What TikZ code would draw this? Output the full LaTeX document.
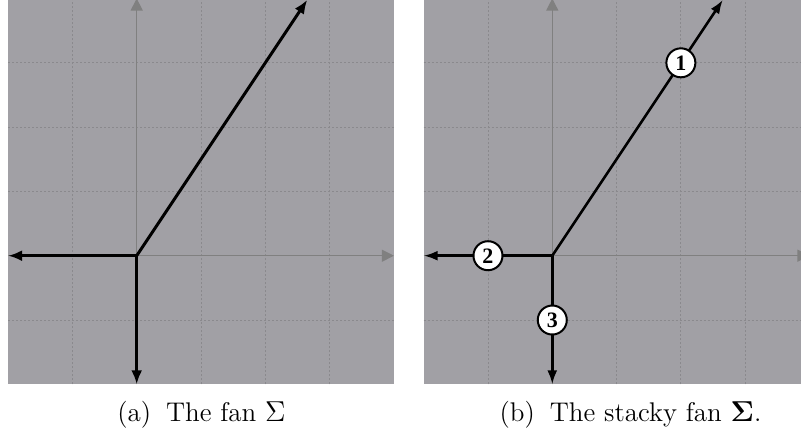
\documentclass[tikz,border=0pt]{standalone}
\usepackage[no-math]{fontspec}
\usetikzlibrary{arrows.meta}
\newfontfamily\numfont{Liberation Serif}
\definecolor{panelbg}{RGB}{161,160,165}
\definecolor{gridgray}{RGB}{138,137,141}
\definecolor{axisgray}{RGB}{128,128,128}
\tikzset{
  panel/.style={fill=panelbg},
  gridline/.style={draw=gridgray, line width=0.45pt, dash pattern=on 1pt off 1pt},
  axisline/.style={draw=axisgray, line width=0.55pt, -{Triangle[length=6pt,width=6pt]}},
  rayA/.style={draw=black, line width=1.5pt, -{Latex[length=7pt,width=5.5pt]}},
  rayB/.style={draw=black, line width=1.3pt, -{Latex[length=7pt,width=5pt]}},
  numcirc/.style={circle, draw=black, fill=white, line width=1pt, minimum size=14.5pt, inner sep=0pt, font=\numfont\bfseries\fontsize{11}{11}\selectfont},
  captext/.style={anchor=base, inner sep=0pt, font=\fontsize{13.5}{15}\selectfont}
}
\begin{document}
\begin{tikzpicture}[x=32.15pt,y=32.15pt]
\useasboundingbox (-2.126,-2.788) rectangle (10.331,3.977);
% ---------- panel (a) ----------
\begin{scope}
  \fill[panel] (-2,-2) rectangle (4,4);
  \foreach \k in {-1,1,2,3} {
    \draw[gridline] (\k,-2) -- (\k,4);
    \draw[gridline] (-2,\k) -- (4,\k);
  }
  \coordinate (aO) at (0,0);
  \coordinate (aXl) at (-2,0);
  \coordinate (aXr) at (4,0);
  \coordinate (aYb) at (0,-2);
  \coordinate (aYt) at (0,4);
  \draw[axisline] (aXl) -- (aXr);
  \draw[axisline] (aYb) -- (aYt);
  \coordinate (aR1) at (2.653,3.98);
  \coordinate (aR2) at (-2,0);
  \coordinate (aR3) at (0,-2);
  \draw[rayA] (aO) -- (aR1);
  \draw[rayA] (aO) -- (aR2);
  \draw[rayA] (aO) -- (aR3);
\end{scope}
% ---------- panel (b) ----------
\begin{scope}[shift={(6.463,0)}]
  \fill[panel] (-2,-2) rectangle (4,4);
  \foreach \k in {-1,1,2,3} {
    \draw[gridline] (\k,-2) -- (\k,4);
    \draw[gridline] (-2,\k) -- (4,\k);
  }
  \coordinate (bO) at (0,0);
  \coordinate (bXl) at (-2,0);
  \coordinate (bXr) at (4,0);
  \coordinate (bYb) at (0,-2);
  \coordinate (bYt) at (0,4);
  \draw[axisline] (bXl) -- (bXr);
  \draw[axisline] (bYb) -- (bYt);
  \coordinate (bR1) at (2.653,3.98);
  \coordinate (bR2) at (-2,0);
  \coordinate (bR3) at (0,-2);
  \draw[rayB] (bO) -- (bR1);
  \draw[rayB] (bO) -- (bR2);
  \draw[rayB] (bO) -- (bR3);
  \node[numcirc] (n1) at (2,3) {1};
  \node[numcirc] (n2) at (-1,0) {2};
  \node[numcirc] (n3) at (0,-1) {3};
\end{scope}
% ---------- captions ----------
\node[captext] (capa) at (1.008,-2.58) {(a)\hspace{0.55em}The fan $\Sigma$};
\node[captext] (capb) at (7.68,-2.58) {(b)\hspace{0.55em}The stacky fan $\mathbf{\Sigma}$.};
\end{tikzpicture}
\end{document}
